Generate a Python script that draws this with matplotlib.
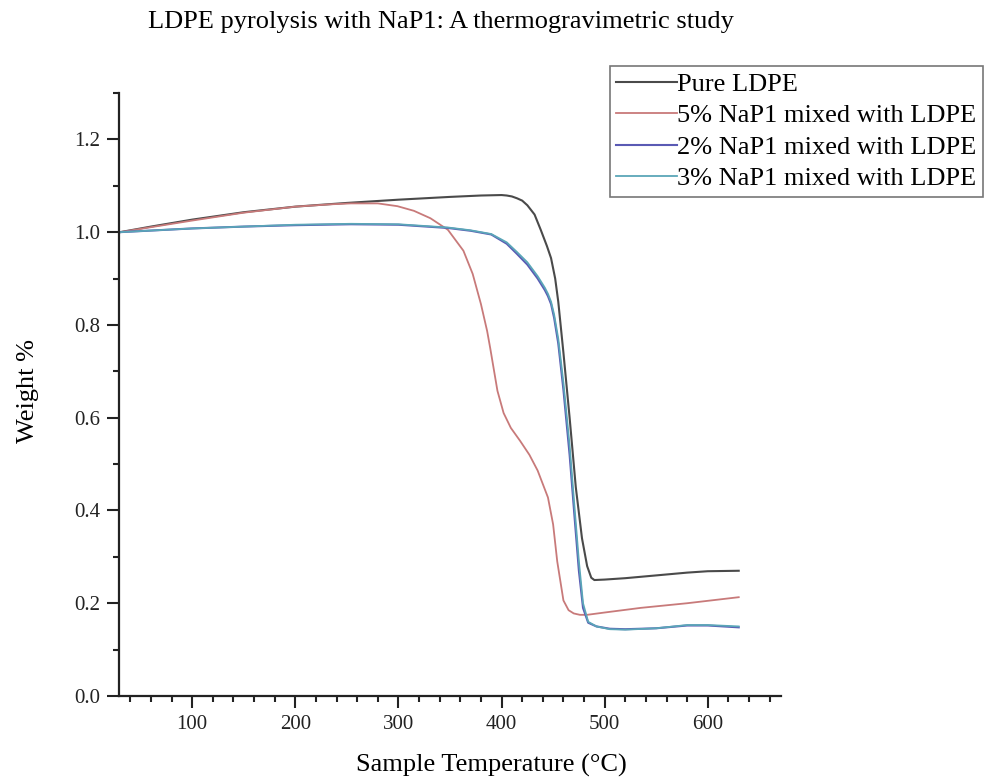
import matplotlib
matplotlib.use("Agg")
import matplotlib.pyplot as plt
from matplotlib.ticker import MultipleLocator

plt.rcParams['font.family'] = ['Liberation Serif', 'DejaVu Serif']

title = "LDPE pyrolysis with NaP1: A thermogravimetric study"
series_labels = ["Pure LDPE", "5% NaP1 mixed with LDPE",
                 "2% NaP1 mixed with LDPE", "3% NaP1 mixed with LDPE"]

t_pure = [30, 60, 100, 150, 200, 250, 300, 350, 380, 400, 405, 410, 415, 420, 425,
          432, 438, 444, 448, 452, 455, 460, 466, 472, 478, 483, 487, 490, 500,
          520, 550, 580, 600, 630]
w_pure = [1.0, 1.012, 1.027, 1.043, 1.055, 1.063, 1.07, 1.076, 1.079, 1.08, 1.079,
          1.077, 1.073, 1.068, 1.058, 1.038, 1.005, 0.97, 0.944, 0.9, 0.85, 0.74,
          0.6, 0.45, 0.34, 0.28, 0.255, 0.25, 0.251, 0.254, 0.26, 0.266, 0.269, 0.27]

t_5 = [30, 100, 150, 200, 234, 254, 280, 299, 315, 331, 348, 363, 372, 380, 386,
       389, 396, 402, 409, 418, 427, 435, 445, 450, 454, 460, 465, 470, 476, 483,
       500, 535, 580, 630]
w_5 = [1.0, 1.025, 1.042, 1.055, 1.06, 1.062, 1.062, 1.056, 1.046, 1.03, 1.005,
       0.96, 0.91, 0.845, 0.787, 0.75, 0.658, 0.61, 0.578, 0.55, 0.52, 0.486,
       0.428, 0.37, 0.29, 0.206, 0.185, 0.178, 0.175, 0.175, 0.18, 0.19, 0.2, 0.213]

t_23 = [30, 100, 150, 200, 254, 300, 348, 370, 390, 405, 415, 425, 435, 442, 445,
        448, 451, 455, 460, 466, 471, 475, 479, 484, 492, 505, 520, 550, 580,
        600, 630]
w_2 = [1.0, 1.008, 1.012, 1.015, 1.017, 1.016, 1.009, 1.003, 0.995, 0.975, 0.953,
       0.93, 0.9, 0.875, 0.862, 0.845, 0.815, 0.76, 0.66, 0.52, 0.38, 0.27, 0.19,
       0.158, 0.15, 0.145, 0.144, 0.146, 0.152, 0.152, 0.148]
w_3 = [1.0, 1.008, 1.012, 1.016, 1.018, 1.017, 1.01, 1.004, 0.996, 0.978, 0.957,
       0.935, 0.905, 0.88, 0.867, 0.85, 0.822, 0.77, 0.675, 0.54, 0.4, 0.29, 0.2,
       0.16, 0.15, 0.144, 0.143, 0.146, 0.153, 0.153, 0.15]

colors = ["#4a4a4a", "#c87a7a", "#5a5ab4", "#5aa6b8"]

fig = plt.figure(figsize=(9.87, 7.8), dpi=100)
ax = fig.add_axes([119/987, 1-696/780, (781-119)/987, (696-93)/780])

ax.plot(t_pure, w_pure, color=colors[0], lw=1.5, label=series_labels[0])
ax.plot(t_5, w_5, color=colors[1], lw=1.3, label=series_labels[1])
ax.plot(t_23, w_2, color=colors[2], lw=1.5, label=series_labels[2])
ax.plot(t_23, w_3, color=colors[3], lw=1.3, label=series_labels[3])

ax.set_xlim(29, 671)
ax.set_ylim(0, 1.3)
ax.xaxis.set_minor_locator(MultipleLocator(20))
ax.yaxis.set_minor_locator(MultipleLocator(0.1))
ax.set_yticks([0.0, 0.2, 0.4, 0.6, 0.8, 1.0, 1.2])
ax.set_yticklabels(["0.0", "0.2", "0.4", "0.6", "0.8", "1.0", "1.2"])
ax.set_xticks([100, 200, 300, 400, 500, 600])

for s in ["top", "right"]:
    ax.spines[s].set_visible(False)
for s in ["left", "bottom"]:
    ax.spines[s].set_linewidth(1.6)
    ax.spines[s].set_color("#222222")

ax.tick_params(which="major", direction="out", length=8.5, width=1.5,
               labelsize=15, pad=5, colors="#222222")
ax.tick_params(which="minor", direction="out", length=4.5, width=1.5, colors="#222222")

ax.set_xlabel("Sample Temperature (°C)", fontsize=19)
ax.xaxis.set_label_coords((491-119)/662, -(765-696)/603)
ax.xaxis.label.set_va("center")
ax.set_ylabel("Weight %", fontsize=19)
ax.yaxis.set_label_coords((28-119)/662, 0.505)
ax.yaxis.label.set_va("center")

fig.text(441/987, 1-22/780, title, fontsize=19, ha="center", va="center")

leg = ax.legend(loc="upper right", bbox_to_anchor=(983/987, 1-66/780),
                bbox_transform=fig.transFigure, fontsize=19, frameon=True,
                fancybox=False, edgecolor="#555555", handlelength=2.3,
                handletextpad=0.0, borderpad=0.25, labelspacing=0.3,
                borderaxespad=0)
leg.get_frame().set_linewidth(1.2)

fig.savefig("out.png", dpi=100, facecolor="white")
